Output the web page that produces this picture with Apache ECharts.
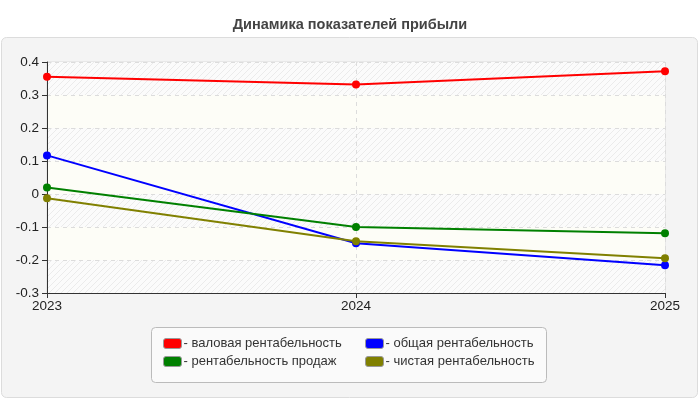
<!DOCTYPE html>
<html>
<head>
	<meta charset="utf-8">
	<title>Динамика показателей прибыли</title>
	<script src="https://cdn.jsdelivr.net/npm/echarts@6/dist/echarts.min.js"></script>
	<style type="text/css">
		* { padding: 0; margin: 0; }
		body { background: #fff; }
		#chart { width: 700px; height: 400px; }
	</style>
</head>
<body>
	<div id="chart"></div>
	<script type="text/javascript">
		var years = ['2023', '2024', '2025'];
		var grossMargin = [0.355, 0.332, 0.372];
		var totalMargin = [0.117, -0.149, -0.216];
		var salesMargin = [0.020, -0.100, -0.119];
		var netMargin = [-0.013, -0.143, -0.195];
		var yTicks = [-0.3, -0.2, -0.1, 0, 0.1, 0.2, 0.3, 0.4];

		var names = ['валовая рентабельность', 'общая рентабельность', 'рентабельность продаж', 'чистая рентабельность'];
		var colors = ['#ff0000', '#0000ff', '#008000', '#808000'];
		var values = [grossMargin, totalMargin, salesMargin, netMargin];

		// diagonal hatch for the striped bands
		var hatch = document.createElement('canvas');
		hatch.width = 6;
		hatch.height = 6;
		var ctx = hatch.getContext('2d');
		ctx.fillStyle = '#fbfbfb';
		ctx.fillRect(0, 0, 6, 6);
		ctx.strokeStyle = '#ebebeb';
		ctx.lineWidth = 1;
		ctx.beginPath();
		ctx.moveTo(0, 6); ctx.lineTo(6, 0);
		ctx.moveTo(-1, 1); ctx.lineTo(1, -1);
		ctx.moveTo(5, 7); ctx.lineTo(7, 5);
		ctx.stroke();

		var font = 'Liberation Sans';
		var chart = echarts.init(document.getElementById('chart'));

		var series = [];
		for (let i = 0; i < names.length; i++) {
			series.push({
				name: names[i],
				type: 'line',
				data: values[i],
				color: colors[i],
				symbol: 'circle',
				symbolSize: 8,
				lineStyle: { width: 2 },
				animation: false
			});
		}

		var legendCommon = {
			orient: 'vertical',
			top: 337,
			padding: 0,
			itemWidth: 18,
			itemHeight: 10,
			itemGap: 5,
			icon: 'roundRect',
			itemStyle: { borderColor: '#999', borderWidth: 1 },
			formatter: function (n) { return '- ' + n; },
			textStyle: { fontFamily: font, fontSize: 13, color: '#333', padding: [0, 0, 0, -3] },
			selectedMode: false
		};

		chart.setOption({
			backgroundColor: '#fff',
			title: {
				text: 'Динамика показателей прибыли',
				left: 'center',
				top: 12,
				textStyle: { fontFamily: font, fontSize: 14.5, fontWeight: 'bold', color: '#444' }
			},
			graphic: [
				{
					type: 'rect', z: -10, silent: true,
					shape: { x: 1.5, y: 37.5, width: 696, height: 360, r: 5 },
					style: { fill: '#f4f4f4', stroke: '#dcdcdc', lineWidth: 1 }
				},
				{
					type: 'rect', z: -9, silent: true,
					shape: { x: 151.5, y: 327.5, width: 395, height: 55, r: 4 },
					style: { fill: '#fafafa', stroke: '#bbb', lineWidth: 1 }
				}
			],
			legend: [
				Object.assign({}, legendCommon, { left: 163, data: [names[0], names[2]] }),
				Object.assign({}, legendCommon, { left: 365, data: [names[1], names[3]] })
			],
			grid: {
				left: 47, right: 35, top: 62, bottom: 107,
				show: true, borderColor: '#dcdcdc', borderWidth: 1, backgroundColor: 'transparent'
			},
			xAxis: {
				type: 'category',
				data: years,
				boundaryGap: false,
				axisLine: { onZero: false, lineStyle: { color: '#333', width: 1 } },
				axisTick: { show: true, length: 5, lineStyle: { color: '#333' } },
				axisLabel: { fontFamily: font, fontSize: 13.5, color: '#222', margin: 6 },
				splitLine: { show: true, lineStyle: { color: '#dcdcdc', type: [4, 4] } }
			},
			yAxis: {
				type: 'value',
				min: yTicks[0],
				max: yTicks[yTicks.length - 1],
				interval: 0.1,
				axisLine: { show: true, lineStyle: { color: '#333', width: 1 } },
				axisTick: { show: true, length: 5, lineStyle: { color: '#333' } },
				axisLabel: {
					fontFamily: font, fontSize: 13.5, color: '#222', margin: 8,
					formatter: function (v) { return String(Math.round(v * 10) / 10); }
				},
				splitLine: { show: true, lineStyle: { color: '#dcdcdc', type: [4, 4] } },
				splitArea: {
					show: true,
					areaStyle: { color: [{ image: hatch, repeat: 'repeat' }, '#fdfdf7'] }
				}
			},
			series: series
		});
	</script>
</body>
</html>
